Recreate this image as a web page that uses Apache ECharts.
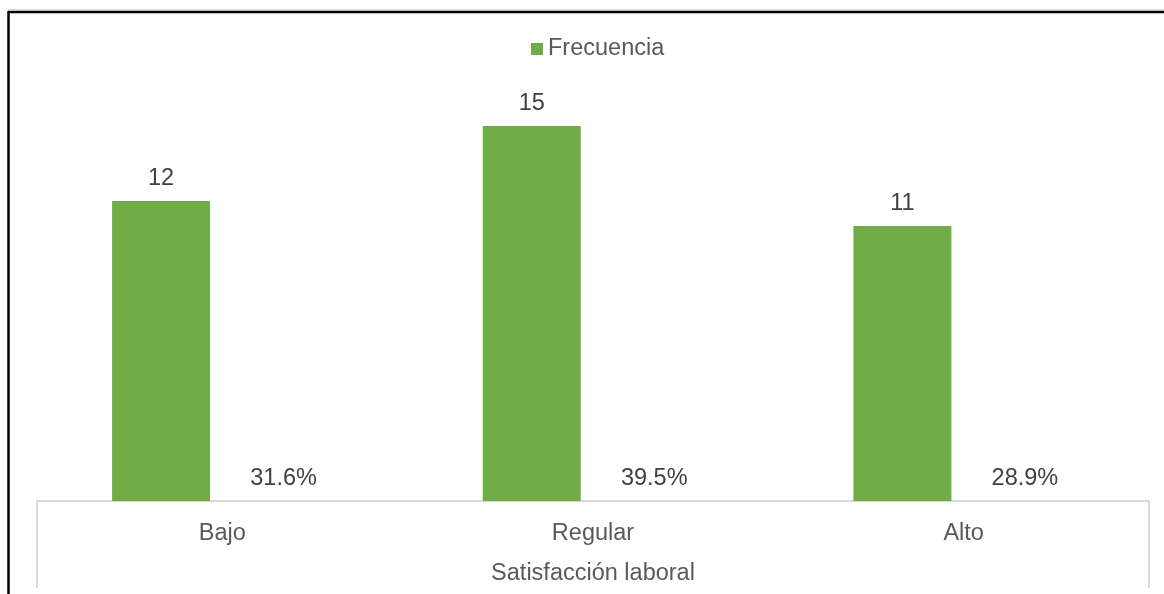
<!DOCTYPE html>
<html>
<head>
<meta charset="utf-8">
<script src="https://cdn.jsdelivr.net/npm/echarts@6/dist/echarts.min.js"></script>
<style>
  html, body { margin: 0; padding: 0; background: #ffffff; }
  #chart { width: 1164px; height: 594px; }
</style>
</head>
<body>
<div id="chart"></div>
<script>
// Satisfacción laboral: frecuencia y porcentaje por nivel
const categories = ['Bajo', 'Regular', 'Alto'];
const frecuencia = [12, 15, 11];
const porcentaje = [31.6, 39.5, 28.9];
const axisTitle = 'Satisfacción laboral';
const legendLabel = 'Frecuencia';

const FONT = '"Liberation Sans", Arial, sans-serif';
const GREEN = '#70AD47';

const chart = echarts.init(document.getElementById('chart'), null, { renderer: 'canvas' });

const grid = { left: 37, right: 15, top: 101, bottom: 93, containLabel: false, outerBoundsMode: 'none' };

chart.setOption({
  backgroundColor: '#ffffff',
  animation: false,
  textStyle: { fontFamily: FONT },
  legend: {
    data: [legendLabel],
    left: 531,
    top: 37,
    padding: 0,
    itemWidth: 12,
    itemHeight: 12,
    itemGap: 10,
    icon: 'rect',
    textStyle: { fontFamily: FONT, fontSize: 23.5, color: '#595959', lineHeight: 24 }
  },
  grid: grid,
  xAxis: {
    type: 'category',
    data: categories,
    axisLine: { show: true, lineStyle: { color: '#D9D9D9', width: 2 } },
    axisTick: { show: false },
    axisLabel: { fontFamily: FONT, fontSize: 23.5, color: '#595959', margin: 21 },
    name: axisTitle,
    nameLocation: 'middle',
    nameGap: 61,
    nameTextStyle: { fontFamily: FONT, fontSize: 23.5, color: '#595959' }
  },
  yAxis: {
    type: 'value',
    min: 0,
    max: 16,
    show: false
  },
  series: [
    {
      name: legendLabel,
      type: 'bar',
      data: frecuencia,
      barWidth: 98,
      barGap: '25%',
      itemStyle: { color: GREEN },
      label: {
        show: true,
        position: 'top',
        distance: 10,
        fontFamily: FONT,
        fontSize: 23.5,
        color: '#404040'
      }
    },
    {
      name: 'Porcentaje',
      type: 'bar',
      data: porcentaje.map(v => v / 100),
      barWidth: 98,
      itemStyle: { color: 'rgba(0,0,0,0)' },
      label: {
        show: true,
        position: 'insideBottom',
        distance: 10,
        fontFamily: FONT,
        fontSize: 23.5,
        color: '#404040',
        formatter: p => porcentaje[p.dataIndex].toFixed(1) + '%'
      }
    }
  ],
  graphic: []
});

// Frame lines: outer border and the category-axis side walls
function drawFrame() {
  const W = chart.getWidth();
  const H = chart.getHeight();
  const baseY = chart.convertToPixel({ yAxisIndex: 0 }, 0);
  const leftX = grid.left;
  const rightX = W - grid.right;
  chart.setOption({
    graphic: [
      { type: 'line', shape: { x1: 8, y1: 12, x2: W, y2: 12 }, style: { stroke: '#000000', lineWidth: 2.5 } },
      { type: 'line', shape: { x1: 8, y1: 12, x2: W, y2: 12 }, style: { stroke: '#bbbbbb', lineWidth: 1 }, position: [0, -2] },
      { type: 'line', shape: { x1: 8.5, y1: 11, x2: 8.5, y2: H }, style: { stroke: '#000000', lineWidth: 2.5 } },
      { type: 'line', shape: { x1: leftX, y1: baseY, x2: leftX, y2: H - 6 }, style: { stroke: '#D9D9D9', lineWidth: 2 } },
      { type: 'line', shape: { x1: rightX, y1: baseY, x2: rightX, y2: H - 6 }, style: { stroke: '#D9D9D9', lineWidth: 2 } }
    ]
  });
}
drawFrame();
</script>
</body>
</html>
